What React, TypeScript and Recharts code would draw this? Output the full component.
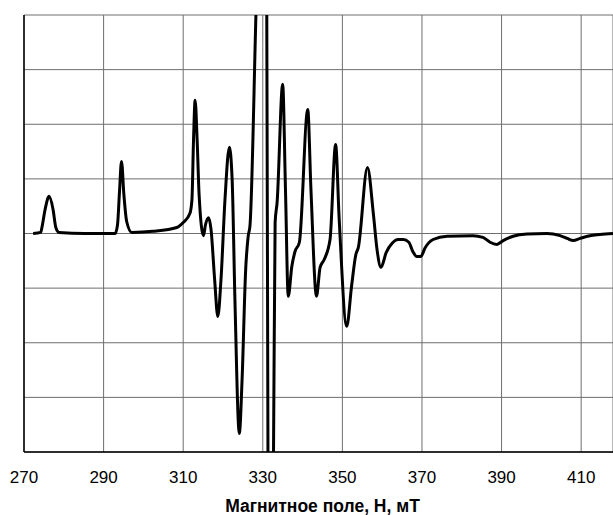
import { CartesianGrid, Label, Line, LineChart, XAxis, YAxis } from "recharts";

const INK = "#000000";
const GRID = "#6E6E6E";

// magnetic field, mT
const fieldValues = [
  272.3, 274.2, 274.5, 275.3, 276.3, 277.3, 278.0, 278.8, 285.3, 292.9,
  293.5, 294.0, 294.5, 295.1, 295.8, 297.1, 302.4, 308.4, 310.0, 311.7,
  312.2, 312.6, 313.0, 313.5, 314.0, 315.1, 315.6, 316.4, 317.0, 317.9,
  318.7, 319.5, 320.5, 321.6, 322.3, 323.0, 324.1, 324.8, 325.7, 326.3,
  326.8, 328.3, 329.6, 331.0, 331.3, 331.9, 332.7, 333.1, 333.6, 335.0,
  335.7, 336.4, 337.3, 338.1, 339.2, 341.3, 342.1, 343.5, 344.4, 345.4,
  346.9, 348.3, 349.2, 351.1, 352.3, 353.4, 354.0, 356.3, 357.8, 358.7,
  359.7, 361.0, 362.5, 364.0, 365.3, 366.7, 367.7, 368.7, 369.7, 370.8,
  372.8, 376.3, 382.8, 385.3, 387.1, 388.8, 390.4, 392.9, 396.4, 401.4,
  404.7, 406.5, 408.0, 409.7, 412.2, 414.7, 418.0,
];

// EPR signal, arbitrary units
const signalValues = [
  0, 0.02, 0.11, 0.44, 0.68, 0.44, 0.11, 0.02, 0, 0,
  0.16, 0.77, 1.32, 0.71, 0.22, 0.02, 0.04, 0.11, 0.2, 0.37,
  0.62, 1.72, 2.44, 1.72, 0.71, -0.04, 0.16, 0.29, 0.07, -0.84,
  -1.52, -0.84, 0.62, 1.58, 0.99, -1.21, -3.66, -2.67, -0.66, -0.07,
  0.16, 4.07, 7.5, 4.07, -3.99, -7.0, -3.99, 0.2, 0.57, 2.73,
  0.81, -1.15, -0.6, -0.33, -0.16, 2.27, 0.81, -1.15, -0.62, -0.48,
  -0.11, 1.63, 0.26, -1.7, -0.97, -0.38, -0.26, 1.21, 0.35, -0.29,
  -0.62, -0.35, -0.18, -0.11, -0.11, -0.16, -0.33, -0.42, -0.42, -0.26,
  -0.11, -0.05, -0.04, -0.07, -0.16, -0.2, -0.13, -0.05, -0.01, 0,
  -0.04, -0.09, -0.13, -0.09, -0.04, -0.02, 0,
];

const fieldTicks = [270, 290, 310, 330, 350, 370, 390, 410];
const signalTicks = [-4, -3, -2, -1, 0, 1, 2, 3, 4];

const data = fieldValues.map((h, i) => ({ h, s: signalValues[i] }));

const FONT = "Liberation Sans, Arial, sans-serif";

// y axis has no labels in the original, only grid rows
const NoTick = () => <g />;

export default function App() {
  return (
    <div style={{ position: "absolute", left: 0, top: 0, background: "#fff" }}>
      <LineChart
        width={613}
        height={515}
        data={data}
        margin={{ top: 15, right: 0, bottom: 0, left: 0 }}
      >
        <CartesianGrid stroke={GRID} strokeWidth={1} />
        <XAxis
          type="number"
          dataKey="h"
          domain={[270, 418]}
          ticks={fieldTicks}
          allowDataOverflow
          height={63}
          axisLine={{ stroke: INK, strokeWidth: 1.5 }}
          tickLine={false}
          tickMargin={13}
          tick={{ fontSize: 17, fill: INK, fontFamily: FONT }}
        >
          <Label
            value="Магнитное поле, Н, мТ"
            position="insideBottom"
            offset={3}
            dx={4}
            style={{ fontSize: 17.5, fontWeight: 700, fill: INK, fontFamily: FONT }}
          />
        </XAxis>
        <YAxis
          type="number"
          domain={[-4, 4]}
          ticks={signalTicks}
          interval={0}
          allowDataOverflow
          width={24}
          tick={NoTick}
          tickLine={false}
          axisLine={{ stroke: INK, strokeWidth: 1.5 }}
        />
        <Line
          type="monotone"
          dataKey="s"
          stroke={INK}
          strokeWidth={3}
          dot={false}
          isAnimationActive={false}
        />
      </LineChart>
    </div>
  );
}
